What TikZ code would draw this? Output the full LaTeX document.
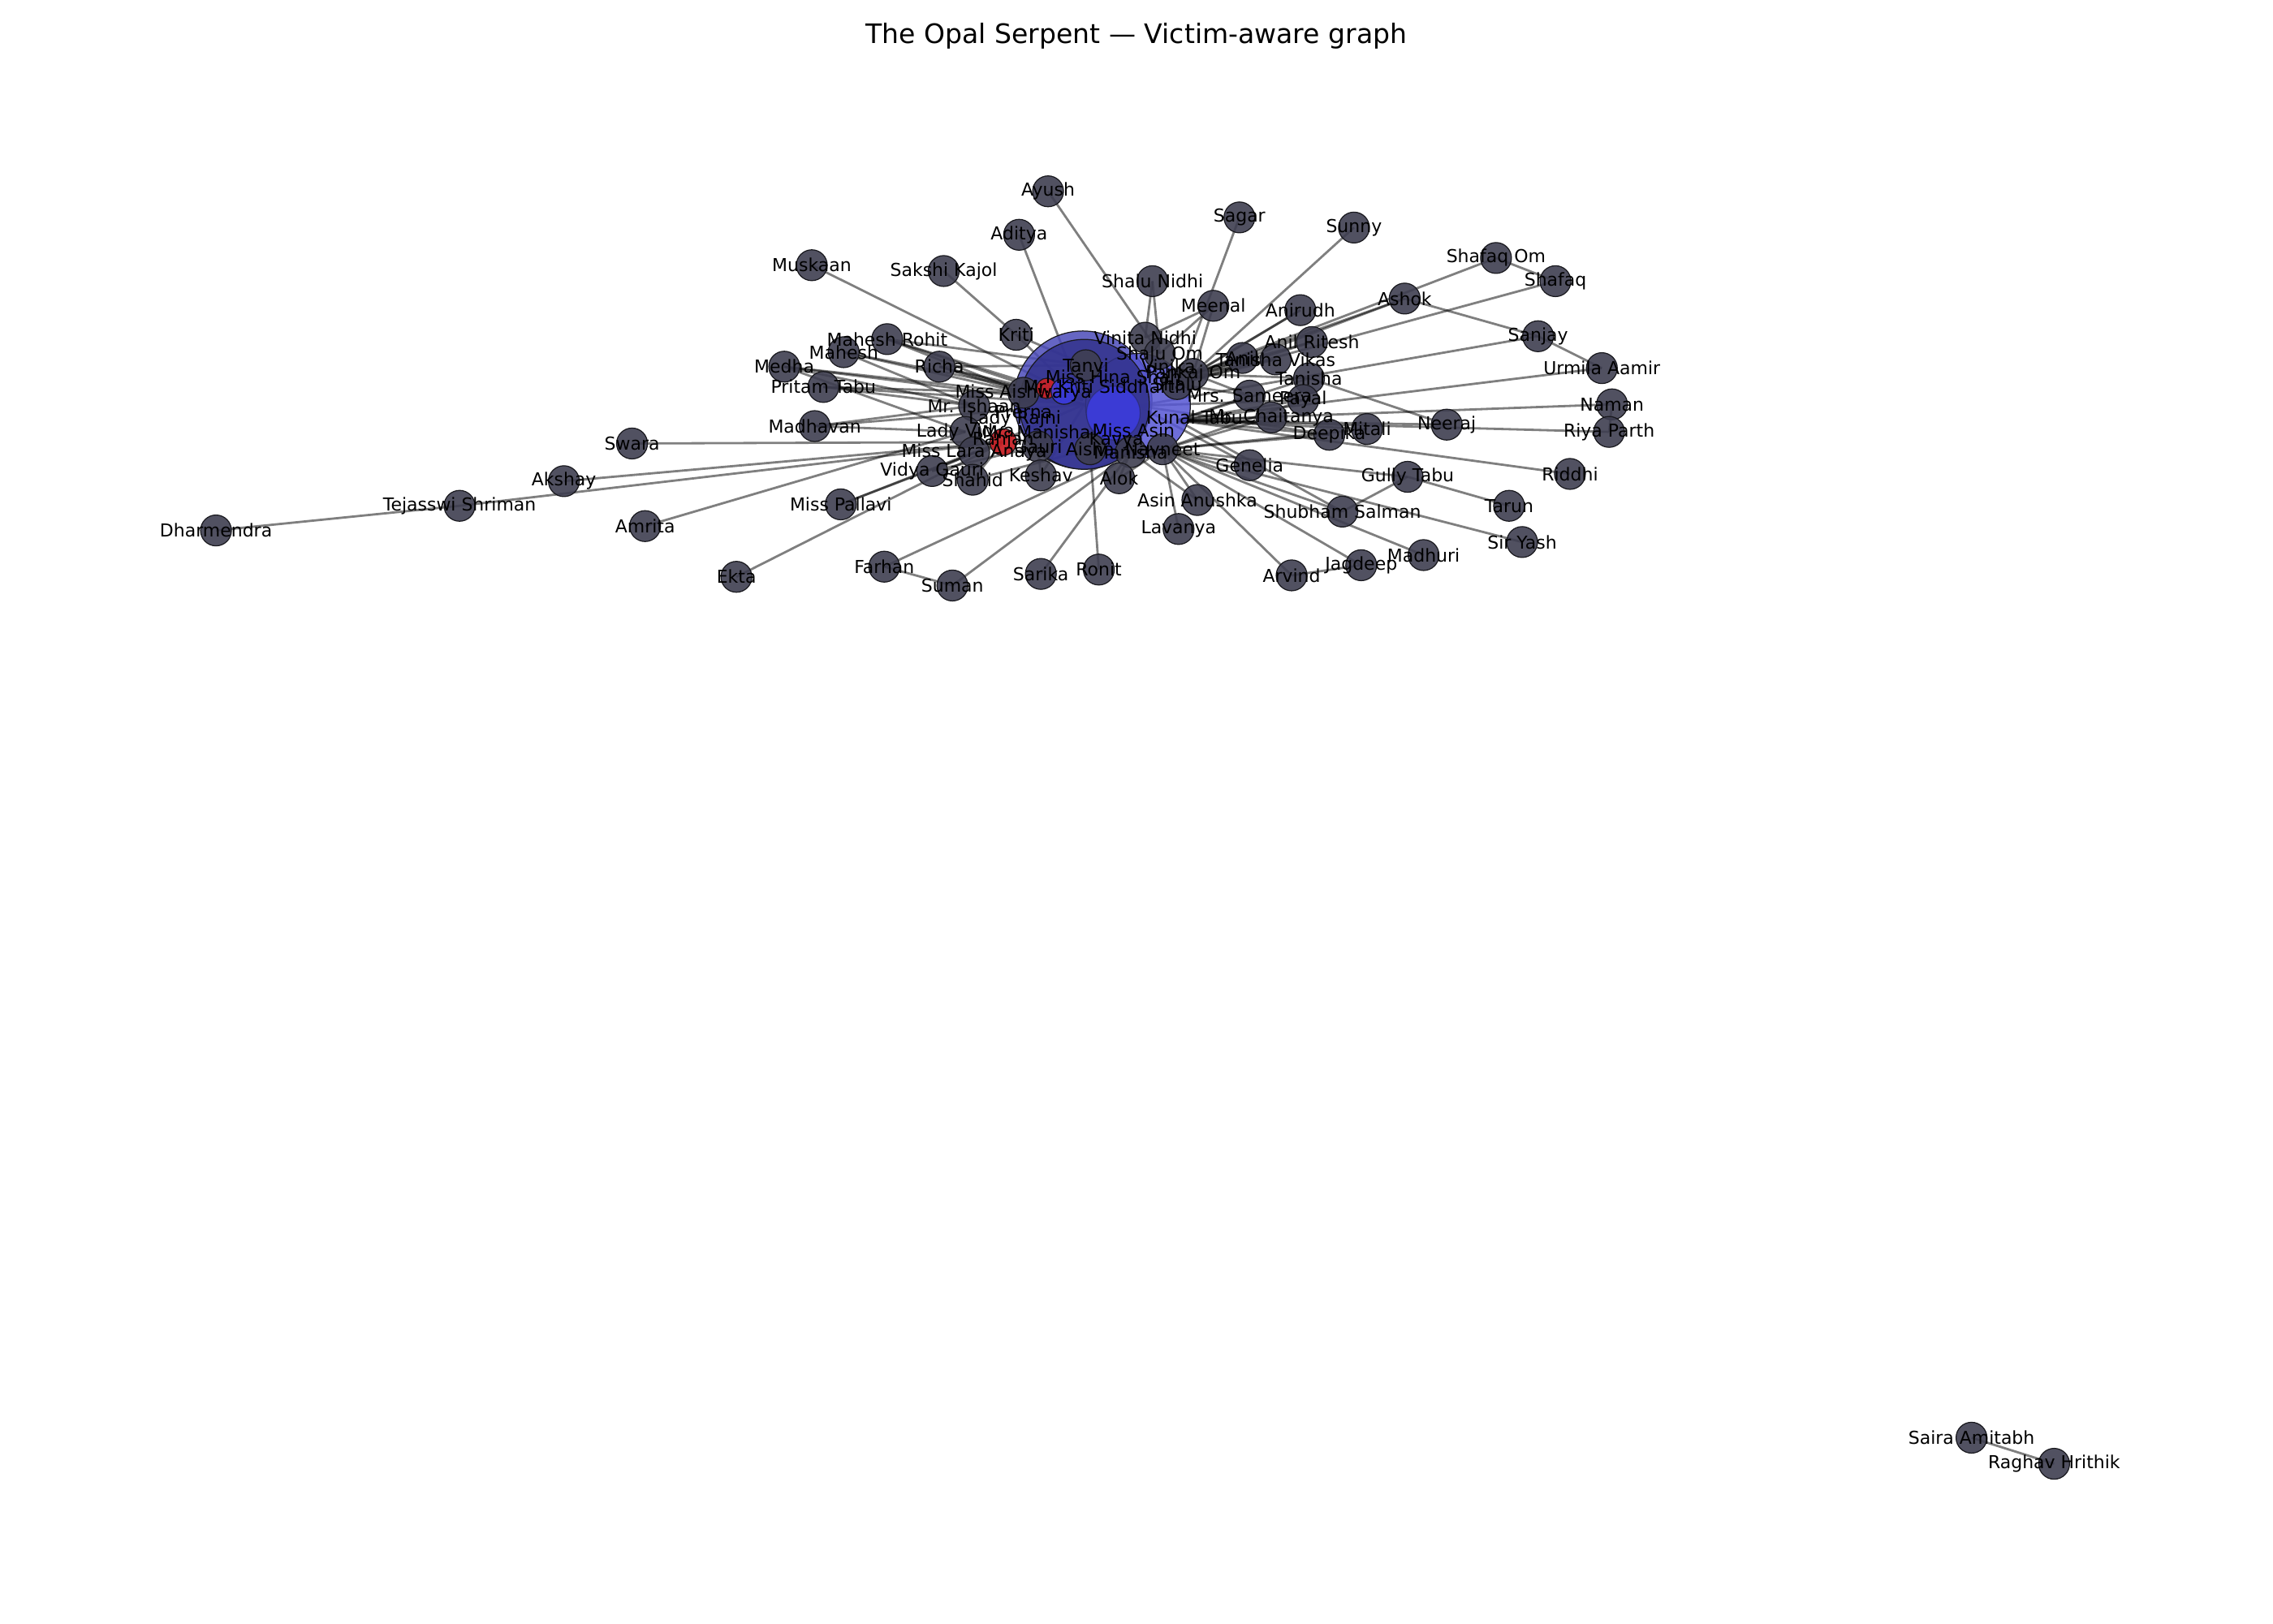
\documentclass[tikz,border=0pt]{standalone}
\usepackage{fontspec}
\setmainfont{DejaVu Sans}
\definecolor{nodegray}{RGB}{62,62,80}
\definecolor{nodeline}{RGB}{25,25,30}
\definecolor{blueA}{RGB}{75,75,185}
\definecolor{blueB}{RGB}{85,85,210}
\definecolor{blueC}{RGB}{50,50,140}
\definecolor{blueD}{RGB}{60,60,225}
\definecolor{redn}{RGB}{200,35,40}
\pgfdeclarelayer{bg}
\pgfdeclarelayer{fg}
\pgfsetlayers{bg,main,fg}
\newcommand\gnode[4]{\node[gn] (#1) at (#2,#3) {};%
  \begin{pgfonlayer}{fg}\node[lbl] at (#2,#3) {#4};\end{pgfonlayer}}
\newcommand\labonly[4]{\begin{pgfonlayer}{fg}\node[lbl] (#1) at (#2,#3) {#4};\end{pgfonlayer}}
\begin{document}
\begin{tikzpicture}[x=0.017857cm,y=-0.017857cm,
  gn/.style={circle,minimum size=0.38cm,inner sep=0pt,fill=nodegray,fill opacity=0.9,draw=nodeline,line width=0.35pt},
  hub/.style={circle,inner sep=0pt,fill opacity=0.85,draw=nodeline,line width=0.35pt},
  rednode/.style={circle,inner sep=0pt,fill=redn,fill opacity=0.95,draw=nodeline,line width=0.35pt},
  lbl/.style={font=\fontsize{6.25}{7}\selectfont,inner sep=0pt,text=black},
  edge/.style={draw=black,draw opacity=0.5,line width=0.8pt},
  titlefont/.style={font=\fontsize{9.4}{11}\selectfont,inner sep=0pt}]
\useasboundingbox (0,0) rectangle (1568,1120);
\node[titlefont] (title) at (784,25) {The Opal Serpent — Victim-aware graph};

% big blue hubs
\node[hub,fill=blueA,minimum size=1.70cm] (hubA) at (747,276) {};
\node[hub,fill=blueB,minimum size=1.29cm] (hubB) at (785,280) {};
\node[hub,fill=blueC,minimum size=1.60cm] (hubC) at (748,279) {};
\node[hub,fill=blueD,minimum size=0.66cm,draw opacity=0.3] (hubD) at (768,285) {};
\coordinate (kunal) at (812,290);

% inner cluster nodes
\gnode{tanvi}{749}{252}{Tanvi}
\gnode{vinita}{790}{233}{Vinita Nidhi}
\gnode{shaluom}{800}{244}{Shalu Om}
\gnode{pankaj}{823}{258}{Pankaj Om}
\gnode{shalu}{812}{265}{Shalu}
\gnode{missaish}{706}{271}{Miss Aishwarya}
\gnode{mrishaan}{672}{280}{Mr. Ishaan}
\gnode{lady}{666}{298}{Lady Vidya}
\gnode{lara}{672}{312}{Miss Lara Anaya}
\gnode{anaya}{716}{308}{Gauri}
\gnode{aisha}{752}{310}{Aisha}
\gnode{manisha}{780}{312}{Manisha}
\gnode{navneet}{802}{310}{Navneet}
\labonly{vinika}{806}{253}{Vinika}
\labonly{hina}{768}{260}{Miss Hina Shah}
\labonly{kritis}{762}{267}{Mr. Kriti Siddharth}
\labonly{prerna}{706}{284}{Prerna}
\labonly{rajni}{700}{289}{Lady Rajni}
\labonly{kunallbl}{824}{288}{Kunal Tabu}
\labonly{mrmanisha}{715}{298}{Mr. Manisha}
\labonly{missasin}{782}{297}{Miss Asin}
\labonly{kavya}{770}{304}{Kavya}

% outer nodes
\gnode{ayush}{723}{132}{Ayush}
\gnode{aditya}{703}{162}{Aditya}
\gnode{sagar}{855}{150}{Sagar}
\gnode{sunny}{934}{157}{Sunny}
\gnode{muskaan}{560}{183}{Muskaan}
\gnode{sakshi}{651}{187}{Sakshi Kajol}
\gnode{shalunidhi}{795}{194}{Shalu Nidhi}
\gnode{shafaqom}{1032}{178}{Shafaq Om}
\gnode{shafaq}{1073}{194}{Shafaq}
\gnode{ashok}{969}{206}{Ashok}
\gnode{meenal}{837}{211}{Meenal}
\gnode{anirudh}{897}{214}{Anirudh}
\gnode{sanjay}{1061}{232}{Sanjay}
\gnode{kriti}{701}{231}{Kriti}
\gnode{mrohit}{612}{234}{Mahesh Rohit}
\gnode{mahesh}{582}{243}{Mahesh}
\gnode{medha}{541}{253}{Medha}
\gnode{richa}{648}{253}{Richa}
\gnode{pritam}{568}{267}{Pritam Tabu}
\gnode{urmila}{1105}{254}{Urmila Aamir}
\gnode{naman}{1112}{279}{Naman}
\gnode{riya}{1110}{298}{Riya Parth}
\gnode{anilritesh}{905}{236}{Anil Ritesh}
\gnode{anil}{857}{247}{Anil}
\gnode{tvikas}{880}{248}{Tanisha Vikas}
\gnode{tanisha}{903}{261}{Tanisha}
\gnode{sameera}{862}{273}{Mrs. Sameera}
\gnode{payal}{899}{276}{Payal}
\gnode{chaitanya}{877}{288}{Mr. Chaitanya}
\gnode{mitali}{943}{296}{Mitali}
\gnode{deepika}{917}{300}{Deepika}
\gnode{neeraj}{998}{293}{Neeraj}
\gnode{riddhi}{1083}{327}{Riddhi}
\gnode{gully}{971}{329}{Gully Tabu}
\gnode{tarun}{1041}{349}{Tarun}
\gnode{siryash}{1050}{374}{Sir Yash}
\gnode{shubham}{926}{353}{Shubham Salman}
\gnode{madhuri}{982}{383}{Madhuri}
\gnode{jagdeep}{939}{390}{Jagdeep}
\gnode{arvind}{891}{397}{Arvind}
\gnode{lavanya}{813}{365}{Lavanya}
\gnode{asinanushka}{826}{345}{Asin Anushka}
\gnode{genelia}{862}{321}{Genelia}
\gnode{alok}{772}{330}{Alok}
\gnode{ronit}{758}{393}{Ronit}
\gnode{sarika}{718}{396}{Sarika}
\gnode{suman}{657}{404}{Suman}
\gnode{farhan}{610}{391}{Farhan}
\gnode{keshav}{718}{328}{Keshav}
\gnode{shahid}{671}{331}{Shahid}
\gnode{vgauri}{643}{325}{Vidya Gauri}
\gnode{pallavi}{580}{348}{Miss Pallavi}
\gnode{amrita}{445}{363}{Amrita}
\gnode{ekta}{508}{398}{Ekta}
\gnode{madhavan}{562}{294}{Madhavan}
\gnode{swara}{436}{306}{Swara}
\gnode{akshay}{389}{332}{Akshay}
\gnode{tejasswi}{317}{349}{Tejasswi Shriman}
\gnode{dharmendra}{149}{366}{Dharmendra}
\gnode{saira}{1360}{992}{Saira Amitabh}
\gnode{raghav}{1417}{1010}{Raghav Hrithik}

% red nodes and bright blue
\node[rednode,minimum size=0.33cm] (ranjan) at (692,305) {};
\begin{pgfonlayer}{fg}\node[lbl] at (692,304) {Ranjan};\end{pgfonlayer}
\node[rednode,minimum size=0.25cm] (redsmall) at (722,268) {};
\node[hub,fill=blueD,minimum size=0.32cm] (kritinode) at (734,270) {};

% edges
\begin{pgfonlayer}{bg}
\foreach \a/\b in {muskaan/hubA,sakshi/kriti,kriti/hubA,kriti/tanvi,aditya/hubA,ayush/shaluom,
  mrohit/hubA,mrohit/missaish,mrohit/hubC,mrohit/tanvi,mahesh/missaish,mahesh/hubA,mahesh/mrishaan,
  medha/missaish,medha/mrishaan,medha/hubC,medha/lady,richa/hubA,richa/missaish,richa/tanvi,richa/hubC,
  pritam/missaish,pritam/hubC,pritam/mrishaan,madhavan/lady,madhavan/hubC,madhavan/mrishaan,
  swara/ranjan,akshay/ranjan,
  tejasswi/ranjan,dharmendra/tejasswi,amrita/lady,pallavi/lara,pallavi/ranjan,ekta/ranjan,
  vgauri/anaya,vgauri/hubC,shahid/ranjan,shahid/aisha,keshav/anaya,keshav/hubC,
  farhan/manisha,farhan/suman,suman/manisha,sarika/manisha,ronit/aisha,alok/manisha,alok/navneet,
  lavanya/navneet,asinanushka/navneet,asinanushka/manisha,arvind/navneet,arvind/jagdeep,
  jagdeep/navneet,madhuri/navneet,shubham/navneet,shubham/kunal,shubham/gully,siryash/navneet,
  gully/tarun,gully/navneet,riddhi/kunal,genelia/navneet,genelia/hubB,deepika/kunal,deepika/navneet,
  deepika/hubB,mitali/kunal,mitali/navneet,neeraj/kunal,neeraj/tanisha,riya/kunal,riya/naman,naman/kunal,urmila/kunal,
  urmila/sanjay,sanjay/hubB,sanjay/ashok,shafaq/shalu,shafaq/shafaqom,shafaqom/pankaj,
  ashok/pankaj,ashok/shalu,anirudh/pankaj,anirudh/shalu,anilritesh/pankaj,anilritesh/shalu,
  anil/pankaj,tvikas/pankaj,tvikas/shalu,tanisha/pankaj,tanisha/kunal,sameera/kunal,sameera/shalu,
  sameera/pankaj,payal/kunal,payal/hubB,payal/navneet,chaitanya/kunal,chaitanya/navneet,sunny/pankaj,sagar/shalu,
  meenal/vinita,meenal/shaluom,meenal/pankaj,shalunidhi/vinita,shalunidhi/shaluom,saira/raghav}
  \draw[edge] (\a.center) -- (\b.center);
\end{pgfonlayer}
\end{tikzpicture}
\end{document}
